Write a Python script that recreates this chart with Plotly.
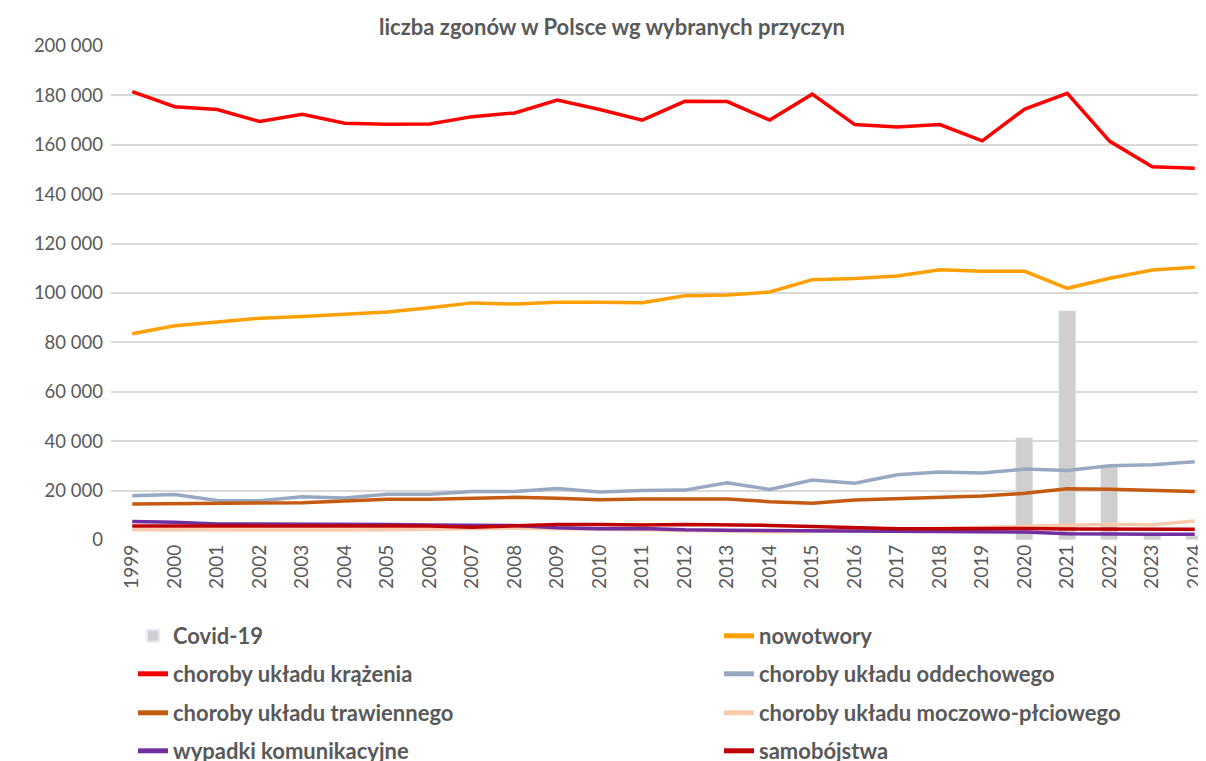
import plotly.graph_objects as go

years = list(range(1999, 2025))

covid_years = [2020, 2021, 2022, 2023, 2024]
covid = [41300, 92700, 29400, 2000, 1500]

nowotwory = [83500, 86700, 88300, 89800, 90500, 91300, 92300, 94000, 96000, 95500,
             96300, 96300, 96100, 98900, 99200, 100400, 105400, 105900, 106900, 109400,
             108800, 108800, 101900, 106000, 109300, 110400]

krazenia = [181500, 175400, 174300, 169400, 172400, 168700, 168300, 168400, 171400, 172900,
            178100, 174300, 170000, 177600, 177500, 170000, 180500, 168200, 167200, 168200,
            161600, 174500, 180800, 161400, 151100, 150500]

oddechowego = [17900, 18400, 16000, 15900, 17500, 17000, 18500, 18500, 19600, 19600,
               20800, 19400, 20000, 20200, 23200, 20500, 24300, 23000, 26400, 27500,
               27100, 28700, 28100, 30100, 30500, 31700]

trawiennego = [14600, 14700, 14600, 14800, 15100, 15800, 16500, 16500, 16900, 17300,
               16900, 16300, 16600, 16700, 16600, 15500, 14900, 16200, 16800, 17400,
               17800, 18900, 20700, 20500, 20000, 19600]

moczowo = [4200, 4100, 4000, 4000, 4000, 4000, 4100, 4200, 4600, 4800,
           4700, 4500, 4200, 3800, 3400, 3300, 3400, 3800, 4200, 4600,
           5000, 5500, 6100, 6400, 6200, 7700]

wypadki = [7500, 7200, 6500, 6500, 6400, 6400, 6300, 6100, 6000, 5900,
           5000, 4600, 4700, 4100, 3900, 3800, 3600, 3600, 3500, 3500,
           3500, 3200, 2500, 2300, 2300, 2300]

samobojstwa = [5700, 5700, 5700, 5700, 5700, 5800, 5800, 5700, 5200, 5600,
               6300, 6300, 6100, 6300, 6200, 5900, 5500, 4900, 4600, 4600,
               4700, 4700, 4500, 4400, 4400, 4400]

y_ticks = [0, 20000, 40000, 60000, 80000, 100000, 120000, 140000, 160000, 180000, 200000]
y_labels = ["0", "20 000", "40 000", "60 000", "80 000", "100 000", "120 000",
            "140 000", "160 000", "180 000", "200 000"]

TXT = "#595959"
FONT = "Lato"

# page is rendered with an 8px body margin -> work in figure coordinates
OFF = 8
W, H = 1206 - OFF, 761 - OFF
plot_left, plot_top, plot_bottom = 111 - OFF, 46 - OFF, 540 - OFF
cat_w = 42.5
x_end = 1998.5 + (W - plot_left) / cat_w

# legend slots: (text-left x on page, row centre y on page)
col_x = [174, 760]
row_y = [636, 674, 713, 751]

def leg(col, row):
    return dict(orientation="h", xref="container", yref="container",
                x=(col_x[col] - OFF - 41) / W, y=1 - (row_y[row] - OFF) / H,
                xanchor="left", yanchor="middle", bgcolor="rgba(0,0,0,0)",
                font=dict(family=FONT, size=22, color=TXT, weight="bold"),
                itemsizing="constant")

fig = go.Figure()
fig.add_trace(go.Bar(x=covid_years, y=covid, name="Covid-19", marker_color="#D0CECE",
                     width=0.4, legend="legend", showlegend=True))

line_series = [
    ("nowotwory", nowotwory, "#FFA000", "legend2"),
    ("choroby układu krążenia", krazenia, "#FF0000", "legend3"),
    ("choroby układu oddechowego", oddechowego, "#97A9C2", "legend4"),
    ("choroby układu trawiennego", trawiennego, "#C55A11", "legend5"),
    ("choroby układu moczowo-płciowego", moczowo, "#F8CBAD", "legend6"),
    ("wypadki komunikacyjne", wypadki, "#7030A0", "legend7"),
    ("samobójstwa", samobojstwa, "#C00000", "legend8"),
]
for name, vals, col, lg in line_series:
    fig.add_trace(go.Scatter(x=years, y=vals, name=name, mode="lines",
                             line=dict(color=col, width=3.5), legend=lg))

legends = {}
for i in range(8):
    key = "legend" if i == 0 else f"legend{i + 1}"
    legends[key] = leg(i % 2, i // 2)

fig.update_layout(
    width=W, height=H,
    showlegend=True,
    margin=dict(l=plot_left, r=0, t=plot_top, b=H - plot_bottom, autoexpand=False),
    paper_bgcolor="white", plot_bgcolor="white",
    title=dict(text="<b>liczba zgonów w Polsce wg wybranych przyczyn</b>",
               x=(612 - OFF) / W, xanchor="center", y=1 - (27 - OFF) / H, yanchor="middle",
               font=dict(family=FONT, size=22, color=TXT)),
    font=dict(family=FONT, color=TXT),
    bargap=0,
    **legends,
)
fig.update_xaxes(range=[1998.5, x_end], tickmode="array", tickvals=years,
                 ticktext=[str(y) for y in years], tickangle=-90,
                 tickfont=dict(family=FONT, size=19, color=TXT),
                 showgrid=False, zeroline=False, showline=False, ticks="",
                 fixedrange=True)
fig.update_yaxes(range=[0, 200000], tickmode="array", tickvals=y_ticks, ticktext=y_labels,
                 tickfont=dict(family=FONT, size=18.5, color=TXT),
                 showgrid=True, gridcolor="#D9D9D9", gridwidth=1.5,
                 zeroline=False, showline=False, ticks="", ticklabelstandoff=7)

fig.write_html("out.html")
